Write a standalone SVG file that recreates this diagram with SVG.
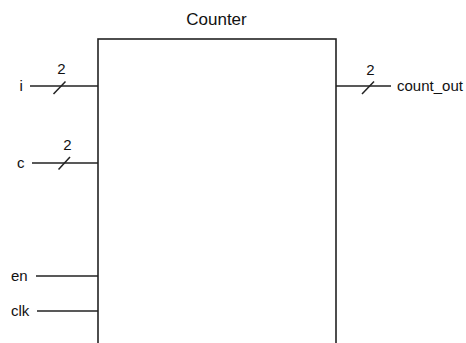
<svg xmlns="http://www.w3.org/2000/svg" width="466" height="343" viewBox="0 0 466 343">
<style>
  .w { stroke: #222; stroke-width: 1.5; fill: none; }
  .box { stroke: #222; stroke-width: 1.6; fill: #fff; }
  .t { font-family: "Liberation Sans", Arial, sans-serif; font-size: 15px; fill: #111; }
  .n { font-family: "Liberation Sans", Arial, sans-serif; font-size: 15px; fill: #111; text-anchor: middle; }
</style>
<g id="counter">
  <rect class="box" x="98" y="39" width="238" height="320"/>
  <text class="t" x="216.5" y="24.5" text-anchor="middle" style="font-size:17px">Counter</text>
</g>
<g id="port-i">
  <text class="t" x="19.5" y="91">i</text>
</g>
<g id="port-c">
  <text class="t" x="17" y="168">c</text>
</g>
<g id="port-en">
  <text class="t" x="11" y="281">en</text>
</g>
<g id="port-clk">
  <text class="t" x="11" y="316">clk</text>
</g>
<g id="port-count_out">
  <text class="t" x="397" y="91">count_out</text>
</g>
<g id="connectors">
  <line class="w" x1="30" y1="86" x2="98" y2="86"/>
  <line class="w" x1="53.5" y1="94" x2="65.5" y2="81.5"/>
  <text class="n" x="61.5" y="73.5">2</text>
  <line class="w" x1="32" y1="163" x2="98" y2="163"/>
  <line class="w" x1="58.5" y1="169.5" x2="70" y2="157"/>
  <text class="n" x="67.5" y="149.5">2</text>
  <line class="w" x1="36" y1="276" x2="98" y2="276"/>
  <line class="w" x1="37" y1="311" x2="98" y2="311"/>
  <line class="w" x1="336" y1="86" x2="391" y2="86"/>
  <line class="w" x1="362" y1="94" x2="374" y2="81.5"/>
  <text class="n" x="370.5" y="74.5">2</text>
</g>
</svg>
